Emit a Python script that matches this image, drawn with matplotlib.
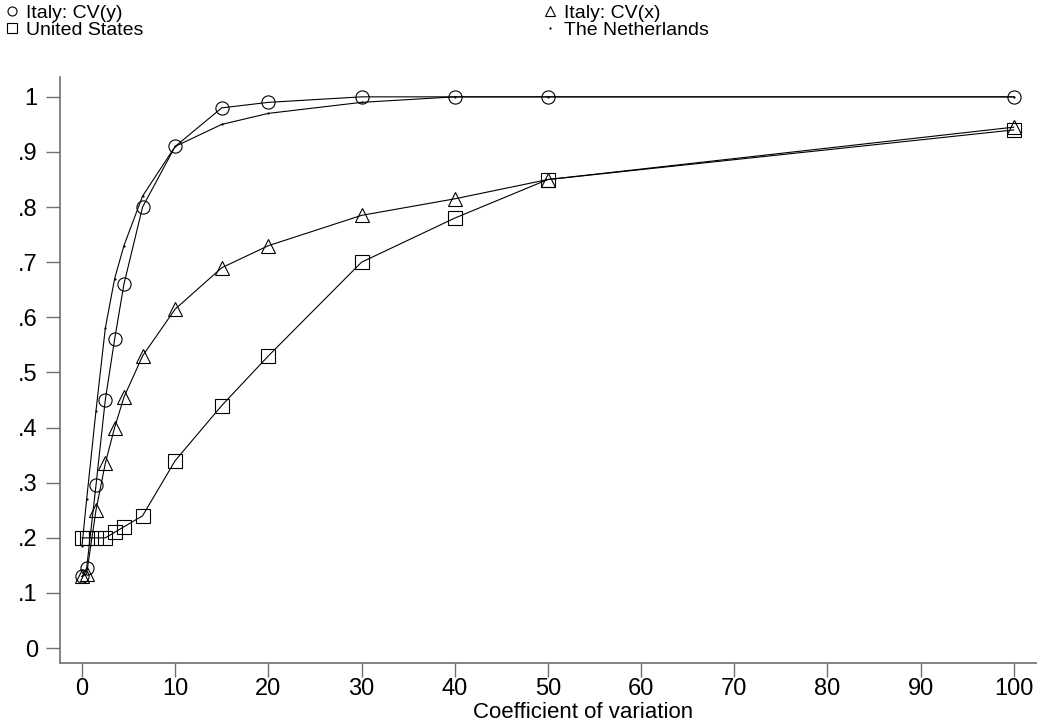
import matplotlib
matplotlib.use("Agg")
import matplotlib.pyplot as plt
from matplotlib.lines import Line2D

plt.rcParams['font.family'] = ['Liberation Sans', 'DejaVu Sans']

# coefficient of variation grid
cv = [0, 0.5, 1.5, 2.5, 3.5, 4.5, 6.5, 10, 15, 20, 30, 40, 50, 100]

italy_cvy = [0.13, 0.145, 0.295, 0.45, 0.56, 0.66, 0.80, 0.91, 0.98, 0.99, 1.0, 1.0, 1.0, 1.0]
italy_cvx = [0.13, 0.135, 0.25, 0.335, 0.40, 0.455, 0.53, 0.615, 0.69, 0.73, 0.785, 0.815, 0.85, 0.945]
united_states = [0.20, 0.20, 0.20, 0.20, 0.21, 0.22, 0.24, 0.34, 0.44, 0.53, 0.70, 0.78, 0.85, 0.94]
netherlands = [0.185, 0.27, 0.43, 0.58, 0.67, 0.73, 0.82, 0.91, 0.95, 0.97, 0.99, 1.0, 1.0, 1.0]

xticks = list(range(0, 101, 10))
yticks = [0, 0.1, 0.2, 0.3, 0.4, 0.5, 0.6, 0.7, 0.8, 0.9, 1.0]
ytick_labels = ['0', '.1', '.2', '.3', '.4', '.5', '.6', '.7', '.8', '.9', '1']

W, H = 1037, 725
fig = plt.figure(figsize=(W / 100, H / 100), dpi=100)
ax = fig.add_axes([60 / W, (H - 663) / H, (W - 60) / W, (663 - 77) / H])

line_kw = dict(color='black', lw=0.8, mfc='none', mec='black', mew=0.8)
ax.plot(cv, italy_cvy, marker='o', ms=9.5, **line_kw)
ax.plot(cv, italy_cvx, marker='^', ms=9.5, **line_kw)
ax.plot(cv, united_states, marker='s', ms=9.5, **line_kw)
ax.plot(cv, netherlands, marker='o', ms=0.8, **line_kw)

ax.set_xlim(-2.36, 102.5)
ax.set_ylim(-0.027, 1.036)
ax.set_xticks(xticks)
ax.set_yticks(yticks)
ax.set_yticklabels(ytick_labels)

grey = '#707070'
for s in ['top', 'right']:
    ax.spines[s].set_visible(False)
for s in ['left', 'bottom']:
    ax.spines[s].set_color(grey)
    ax.spines[s].set_linewidth(1.2)
ax.tick_params(direction='out', length=10, width=1.0, color=grey,
               labelsize=17, labelcolor='black')
ax.tick_params(axis='y', pad=6)
ax.tick_params(axis='x', pad=1)
ax.set_xlabel('Coefficient of variation', fontsize=16)
ax.xaxis.set_label_coords(0.535, -0.066)
ax.xaxis.label.set_va('top')

# legend, two columns at the top
def proxy(marker, ms):
    return Line2D([], [], ls='none', marker=marker, ms=ms, mfc='none', mec='black', mew=0.8)

leg_kw = dict(loc='upper left', frameon=False, fontsize=14, handlelength=0.7,
              handletextpad=0.4, labelspacing=0.0, borderaxespad=0, borderpad=0)
fig.legend([proxy('o', 6.5), proxy('s', 6.5)], ['Italy: CV(y)', 'United States'],
           bbox_to_anchor=(5 / W, 1 - 4 / H), **leg_kw)
fig.legend([proxy('^', 6.5), proxy('o', 0.8)], ['Italy: CV(x)', 'The Netherlands'],
           bbox_to_anchor=(543 / W, 1 - 4 / H), **leg_kw)

fig.savefig('out.png', dpi=100, facecolor='white')
